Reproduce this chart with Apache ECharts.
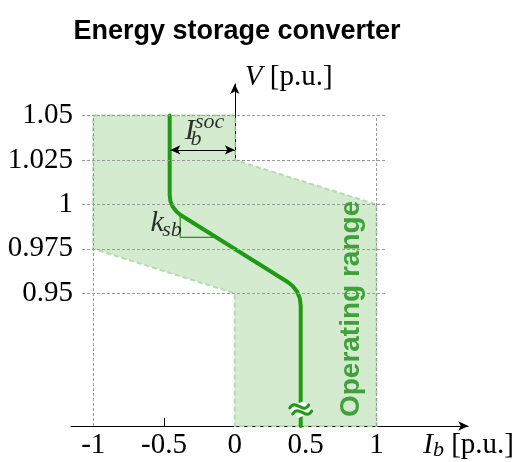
<!DOCTYPE html>
<html>
<head>
<meta charset="utf-8">
<script src="https://cdn.jsdelivr.net/npm/echarts@6/dist/echarts.min.js"></script>
<style>
  html, body { margin: 0; padding: 0; background: #fff; }
  #chart { width: 517px; height: 462px; }
</style>
</head>
<body>
<div id="chart"></div>
<script>
// Voltage / current droop characteristic of an energy storage converter.

// Axis ticks
const voltageTicks = [0.95, 0.975, 1, 1.025, 1.05];
const currentTicks = [-1, -0.5, 0, 0.5, 1];
const currentTickMarks = [-0.5, 0.5];

// Visible axis extents (the V axis is broken below 0.95)
const vMin = 0.8753;
const vMax = 1.0678;
const iMin = -1.157;
const iMax = 1.649;

// Operating range boundary, I_b [p.u.] and V [p.u.]
const rangeI = [-1, 0, 0, 1, 1, 0, 0, -1];
const rangeV = [1.05, 1.05, 1.025, 1.0, vMin, vMin, 0.95, 0.975];

// Droop curve with rounded corners at the two current limits
const curveI = [-0.46, -0.46, -0.455, -0.4385, -0.412, -0.383, 0.376, 0.41, 0.44, 0.459, 0.4655, 0.4655];
const curveV = [1.05, 1.0054, 1.0019, 0.9987, 0.996, 0.9941, 0.9562, 0.954, 0.9509, 0.9472, 0.9432, vMin];

// Axis-break marker position on the curve
const breakAt = [0.4655, 0.8849];

// Slope triangle for k_sb
const slopeI = [-0.386, -0.386, -0.14];
const slopeV = [0.9943, 0.9815, 0.9815];

// I_b^soc dimension arrow
const socArrowI = [-0.455, 0];
const socArrowV = 1.0307;

// Dashed guide lines
const guideLeft = -1.079;
const guideRight = 1.065;
const guideVertical = [-1, 1];

const green = '#1f9a14';
const textGreen = '#1a8e14';
const fillGreen = '#d4ebcf';
const edgeGreen = '#b4dcae';
const serif = '"Liberation Serif", "Times New Roman", serif';
const sans = '"Liberation Sans", Arial, Helvetica, sans-serif';

const pairs = (xs, ys) => xs.map((x, i) => [x, ys[i]]);

// Text annotations placed in data coordinates
const notes = [
  { value: [-0.318, 1.0412], text: 'I', style: { fontFamily: serif, fontStyle: 'italic', fontSize: 30 } },
  { value: [-0.275, 1.0366], text: 'b', style: { fontFamily: serif, fontStyle: 'italic', fontSize: 22 } },
  { value: [-0.178, 1.0462], text: 'soc', style: { fontFamily: serif, fontStyle: 'italic', fontSize: 22 } },
  { value: [-0.548, 0.9893], text: 'k', style: { fontFamily: serif, fontStyle: 'italic', fontSize: 30 } },
  { value: [-0.443, 0.9853], text: 'sb', style: { fontFamily: serif, fontStyle: 'italic', fontSize: 22 } },
  { value: [0.822, 0.9412], text: 'Operating range',
    style: { fontFamily: sans, fontWeight: 'bold', fontSize: 28, color: textGreen, rotate: 90 } }
];

const chart = echarts.init(document.getElementById('chart'), null, { renderer: 'canvas' });

chart.setOption({
  animation: false,
  backgroundColor: '#fff',
  title: {
    text: 'Energy storage converter',
    left: 232,
    top: 13,
    textAlign: 'center',
    textStyle: { fontFamily: sans, fontWeight: 'bold', fontSize: 27, color: '#000' }
  },
  grid: { left: 71, right: 47, top: 84, bottom: 36, containLabel: false },
  xAxis: {
    type: 'value',
    min: iMin,
    max: iMax,
    axisLine: {
      show: true, onZero: false,
      symbol: ['none', 'arrow'], symbolSize: [7, 10],
      lineStyle: { color: '#000', width: 1 }
    },
    axisTick: { show: true, inside: true, length: 8, customValues: currentTickMarks, lineStyle: { color: '#000', width: 1 } },
    axisLabel: {
      customValues: currentTicks, margin: 5,
      fontFamily: serif, fontSize: 29, color: '#000',
      formatter: v => String(v)
    },
    splitLine: { show: false },
    name: '{i|I}{s|b} [p.u.]',
    nameLocation: 'end',
    nameGap: -45,
    nameTextStyle: {
      fontFamily: serif, fontSize: 29, color: '#000',
      align: 'left', verticalAlign: 'middle', padding: [38, 0, 0, 0],
      rich: {
        i: { fontFamily: serif, fontStyle: 'italic', fontSize: 29 },
        s: { fontFamily: serif, fontStyle: 'italic', fontSize: 22, padding: [10, 0, 0, 0] }
      }
    }
  },
  yAxis: [
    {
      // tick labels only, kept at the left edge
      type: 'value',
      min: vMin,
      max: vMax,
      axisLine: { show: false, onZero: false },
      axisTick: { show: false },
      splitLine: { show: false },
      axisLabel: {
        customValues: voltageTicks, margin: -2,
        fontFamily: serif, fontSize: 29, color: '#000',
        formatter: v => String(v)
      }
    },
    {
      // the V axis line itself, crossing I_b = 0
      type: 'value',
      min: vMin,
      max: vMax,
      position: 'left',
      axisLine: {
        show: true, onZero: true,
        symbol: ['none', 'arrow'], symbolSize: [7, 10],
        lineStyle: { color: '#000', width: 1 }
      },
      axisTick: { show: false },
      axisLabel: { show: false },
      splitLine: { show: false },
      name: '{i|V} [p.u.]',
      nameLocation: 'end',
      nameGap: 7,
      nameTextStyle: {
        fontFamily: serif, fontSize: 29, color: '#000',
        align: 'left', verticalAlign: 'middle', padding: [0, 0, 0, 10],
        rich: { i: { fontFamily: serif, fontStyle: 'italic', fontSize: 29 } }
      }
    }
  ],
  series: [
    {
      // Shaded operating range
      type: 'custom',
      name: 'Operating range',
      coordinateSystem: 'cartesian2d',
      silent: true,
      z: 1,
      data: pairs(rangeI, rangeV),
      renderItem: (params, api) => {
        if (params.dataIndex !== 0) return null;
        const pts = rangeI.map((x, i) => api.coord([x, rangeV[i]]));
        return {
          type: 'polygon',
          shape: { points: pts },
          style: { fill: fillGreen, stroke: edgeGreen, lineWidth: 2, lineDash: [5, 3] }
        };
      }
    },
    {
      // Dashed guide lines
      type: 'line',
      silent: true,
      z: 2,
      data: [],
      markLine: {
        silent: true,
        symbol: 'none',
        animation: false,
        label: { show: false },
        lineStyle: { color: '#9a9a9a', type: [3, 2], width: 1 },
        data: [
          ...voltageTicks.map(v => [{ coord: [guideLeft, v] }, { coord: [guideRight, v] }]),
          ...guideVertical.map(x => [{ coord: [x, vMin] }, { coord: [x, voltageTicks[voltageTicks.length - 1]] }])
        ]
      }
    },
    {
      // k_sb slope triangle
      type: 'line',
      silent: true,
      z: 3,
      data: pairs(slopeI, slopeV),
      showSymbol: false,
      lineStyle: { color: green, width: 1.2 }
    },
    {
      // I_b^soc dimension arrow
      type: 'line',
      silent: true,
      z: 3,
      data: [],
      markLine: {
        silent: true,
        animation: false,
        symbol: ['arrow', 'arrow'],
        symbolSize: [7, 10],
        label: { show: false },
        lineStyle: { color: '#000', type: 'solid', width: 1 },
        data: [[{ coord: [socArrowI[0], socArrowV] }, { coord: [socArrowI[1], socArrowV] }]]
      }
    },
    {
      // Droop characteristic
      type: 'line',
      name: 'Droop',
      z: 4,
      data: pairs(curveI, curveV),
      showSymbol: false,
      lineStyle: { color: green, width: 4, cap: 'round', join: 'round' }
    },
    {
      // Axis-break marker: white tilted patch with two wavy strokes
      type: 'custom',
      coordinateSystem: 'cartesian2d',
      silent: true,
      z: 5,
      data: [breakAt],
      renderItem: (params, api) => {
        const c = api.coord([api.value(0), api.value(1)]);
        const wave = { stroke: green, lineWidth: 3, fill: null, lineCap: 'round' };
        return {
          type: 'group',
          x: c[0],
          y: c[1],
          children: [
            { type: 'polygon', shape: { points: [[-13, -1], [3, -8], [13, 2], [-2, 9]] }, style: { fill: '#fff' } },
            { type: 'bezierCurve', shape: { x1: -11, y1: -1, cpx1: -5, cpy1: -11, cpx2: 2, cpy2: 6, x2: 8, y2: -4 }, style: wave },
            { type: 'bezierCurve', shape: { x1: -8, y1: 5, cpx1: -2, cpy1: -5, cpx2: 5, cpy2: 12, x2: 11, y2: 2 }, style: wave }
          ]
        };
      }
    },
    {
      // Text annotations
      type: 'scatter',
      silent: true,
      z: 6,
      symbolSize: 0,
      data: notes.map(n => ({
        value: n.value,
        label: Object.assign({
          show: true, position: 'inside', formatter: n.text, color: '#000'
        }, n.style)
      }))
    }
  ]
});
</script>
</body>
</html>
